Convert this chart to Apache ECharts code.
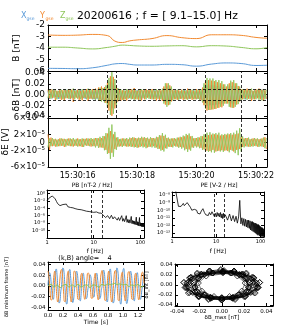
<!DOCTYPE html>
<html><head><meta charset="utf-8">
<script src="https://cdn.jsdelivr.net/npm/echarts@6/dist/echarts.min.js"></script>
<style>html,body{margin:0;padding:0;background:#fff}#c{width:293px;height:327px}</style>
</head><body><div id="c"></div><script>
// ---------------- data ----------------
const tB = [15.0,15.5,16.0,16.5,17.0,17.25,17.5,17.75,18.0,18.5,19.0,19.5,20.0,20.5,21.0,21.5,22.0,22.37];
const bX = [-5.77,-5.78,-5.8,-5.72,-5.5,-5.38,-5.35,-5.42,-5.48,-5.48,-5.42,-5.45,-5.58,-5.4,-5.3,-5.35,-5.52,-5.5];
const bY = [-2.87,-2.9,-2.88,-2.82,-2.92,-3.4,-3.52,-3.38,-3.3,-3.18,-2.92,-3.1,-3.18,-2.85,-2.85,-2.9,-3.08,-3.15];
const bZ = [-3.93,-3.93,-4.0,-4.08,-3.95,-3.85,-3.75,-3.78,-3.82,-3.85,-3.82,-3.8,-3.9,-3.8,-3.83,-3.95,-4.07,-3.97];

const WAVE_T0 = 15.0, WAVE_DT = 0.05;
const dBx = [
.006,-.008,.005,-.007,.009,-.005,.006,-.008,.007,-.006,
.005,-.008,.009,-.006,.007,-.009,.006,-.007,.008,-.005,
.007,-.006,.009,-.007,.005,-.008,.007,-.006,.008,-.007,
.006,-.009,.007,-.008,.010,-.009,.011,-.010,.012,-.011,
.015,-.020,.024,-.026,.022,-.018,.012,-.009,.008,-.007,
.006,-.008,.007,-.006,.009,-.007,.005,-.008,.007,-.006,
.008,-.006,.007,-.009,.006,-.007,.008,-.005,.007,-.008,
.006,-.007,.008,-.006,.007,-.009,.006,-.008,.011,-.014,
.015,-.014,.012,-.010,.007,-.006,.008,-.007,.006,-.008,
.007,-.006,.009,-.007,.006,-.008,.007,-.006,.008,-.007,
.006,-.008,.007,-.009,.010,-.014,.018,-.021,.019,-.020,
.018,-.020,.017,-.019,.016,-.018,.015,-.017,.014,-.012,
.011,-.012,.015,-.017,.016,-.018,.015,-.013,.011,-.009,
.007,-.008,.006,-.009,.007,-.006,.008,-.007,.006,-.008,
.007,-.006,.008,-.007,.009,-.006,.007,-.008];
const dBy = [
.009,-.007,.010,-.006,.008,-.011,.007,-.005,.009,-.010,
.008,-.012,.008,-.007,.010,-.008,.009,-.014,.007,-.006,
.009,-.010,.007,-.011,.008,-.006,.010,-.012,.009,-.008,
.010,-.008,.011,-.007,.013,-.012,.015,-.010,.014,-.016,
.022,-.030,.034,-.040,.033,-.026,.017,-.013,.010,-.012,
.008,-.010,.007,-.011,.009,-.006,.010,-.008,.012,-.009,
.007,-.010,.009,-.011,.008,-.009,.010,-.006,.009,-.008,
.010,-.009,.007,-.011,.008,-.010,.008,-.012,.015,-.019,
.021,-.020,.017,-.013,.009,-.009,.008,-.010,.008,-.008,
.009,-.010,.007,-.009,.011,-.008,.009,-.010,.007,-.009,
.010,-.008,.009,-.011,.013,-.020,.025,-.030,.027,-.029,
.026,-.028,.025,-.027,.023,-.025,.021,-.024,.019,-.017,
.015,-.017,.021,-.024,.023,-.025,.021,-.019,.016,-.013,
.010,-.009,.010,-.007,.011,-.008,.010,-.012,.007,-.009,
.010,-.007,.011,-.009,.009,-.012,.008,-.008];
const dBz = [
-.007,.009,-.008,.009,-.006,.010,-.009,.007,-.008,.009,
-.009,.010,-.007,.009,-.008,.010,-.007,.011,-.009,.008,
-.008,.009,-.009,.010,-.007,.008,-.009,.011,-.008,.009,
-.009,.010,-.010,.009,-.012,.013,-.013,.012,-.015,.017,
-.024,.031,-.038,.042,-.036,.029,-.020,.012,-.011,.010,
-.010,.009,-.009,.010,-.008,.008,-.009,.009,-.010,.008,
-.009,.009,-.010,.010,-.007,.009,-.009,.008,-.008,.009,
-.009,.010,-.009,.010,-.008,.009,-.009,.011,-.017,.021,
-.023,.021,-.019,.015,-.011,.008,-.009,.009,-.010,.007,
-.008,.009,-.009,.008,-.010,.009,-.008,.009,-.009,.008,
-.009,.009,-.010,.010,-.015,.021,-.027,.031,-.029,.030,
-.028,.030,-.027,.027,-.025,.027,-.023,.025,-.021,.019,
-.017,.019,-.023,.026,-.025,.027,-.023,.021,-.018,.015,
-.011,.010,-.009,.009,-.010,.010,-.009,.011,-.009,.008,
-.009,.009,-.010,.010,-.011,.010,-.009,.009];
// delta E in units of 1e-5 V
const dEy = [
2.0,-1.8,1.2,-0.9,0.8,-1.0,0.7,-0.9,1.0,-0.8,
0.9,-1.1,0.8,-0.7,1.0,-0.9,0.8,-1.0,0.7,-0.8,
1.0,-0.9,0.8,-1.1,0.9,-0.7,1.0,-0.8,0.9,-1.0,
0.8,-0.9,1.1,-0.8,1.0,-1.2,1.1,-1.3,1.5,-1.8,
2.2,-2.6,2.8,-2.5,2.0,-1.6,1.2,-1.0,0.8,-0.9,
1.0,-0.8,0.9,-1.0,0.8,-0.9,1.1,-1.0,1.2,-1.1,
1.0,-1.2,1.1,-0.9,1.2,-1.0,1.1,-1.2,0.9,-1.0,
1.1,-0.9,1.0,-1.2,1.3,-1.5,1.7,-1.8,1.6,-1.4,
1.1,-1.0,0.9,-1.1,1.0,-0.8,0.9,-1.0,1.2,-1.1,
1.3,-1.2,1.5,-1.6,1.8,-1.7,1.5,-1.2,1.0,-0.9,
1.1,-1.0,1.2,-1.3,1.5,-1.7,1.9,-2.0,1.8,-2.1,
1.9,-1.8,2.0,-2.2,1.9,-2.0,1.7,-1.9,1.8,-2.0,
1.9,-2.1,2.0,-1.8,1.9,-2.2,2.0,-1.8,2.2,-1.6,
1.3,-1.1,1.0,-0.9,1.1,-1.0,0.8,-0.9,1.0,-0.8,
0.9,-1.0,0.8,-0.9,1.0,-1.1,1.3,-1.6];
const dEz = [
-1.2,1.0,-0.9,1.1,-0.8,0.9,-1.0,0.8,-0.9,1.0,
-0.8,0.9,-1.0,0.9,-0.8,1.0,-0.9,1.1,-0.8,0.9,
-1.0,0.8,-0.9,1.0,-1.1,0.9,-0.8,1.0,-0.9,1.1,
-0.9,1.0,-1.2,1.1,-1.3,1.4,-1.2,1.6,-1.9,2.3,
-2.8,3.6,-4.0,4.4,-3.5,2.6,-1.8,1.3,-1.0,0.9,
-1.1,1.0,-0.9,1.1,-1.0,1.2,-1.1,1.3,-1.2,1.1,
-1.3,1.2,-1.1,1.4,-1.2,1.3,-1.4,1.2,-1.1,1.3,
-1.2,1.1,-1.3,1.4,-1.6,1.8,-2.0,2.3,-2.2,1.9,
-1.5,1.2,-1.1,1.0,-1.2,1.1,-1.0,1.2,-1.3,1.4,
-1.5,1.7,-1.9,2.1,-2.3,2.2,-2.0,1.6,-1.3,1.1,
-1.2,1.3,-1.4,1.6,-1.8,2.0,-2.2,2.4,-2.3,2.5,
-2.4,2.2,-2.5,2.3,-2.1,2.4,-2.2,2.0,-2.3,2.1,
-1.9,2.2,-2.4,2.3,-2.0,2.4,-2.6,2.9,-3.1,3.5,
-2.2,1.5,-1.2,1.1,-1.0,1.2,-1.1,0.9,-1.0,1.1,
-0.9,1.0,-1.1,0.9,-1.0,1.2,-1.4,1.1];

const dBMarks = [17.01, 17.31, 20.29, 21.5];
const dEMarks = [20.29, 21.5];
const dBLevel = 0.01;
const fBand = [9.1, 15.0];

const freq = [1.0,1.1,1.2,1.3,1.4,1.5,1.6,1.7,1.8,1.9,2.0,2.2,2.4,2.6,2.8,3.0,3.2,3.4,3.6,3.8,4.0,4.3,4.6,5.0,5.4,5.8,6.2,6.6,7.0,7.5,8.0,8.5,9.0,9.5,10,10.5,11,11.5,12,12.5,13,13.5,14,14.5,15,
16,18,20,22,24,26,28,30,32,34,36,38,40,42,44,46,48,50,52,54,56,58,60,62,64,66,68,70,72,74,76,78,80,82,84,86,88,90,92,94,96,98,100,102,104,106,108,110,112,114,116,118,120];
const pb = [1e-2,5e-2,1.3e-1,2e-1,1e-1,3.2e-2,6.3e-3,1.6e-3,7.9e-4,5e-4,3.2e-4,1e-3,4e-4,1.3e-3,2.5e-4,5e-4,1.6e-4,4e-4,1.3e-4,2.5e-4,7.9e-5,1.3e-4,5e-5,1e-4,4e-5,6.3e-5,2.5e-5,4e-5,1.6e-5,2.5e-5,1.3e-5,2e-5,1e-5,1.6e-5,7.9e-6,1.3e-5,6.3e-6,1e-5,5e-6,7.9e-6,5e-6,6.3e-6,4e-6,5e-6,2.5e-6,
1.6e-6,3.2e-7,1e-6,1.6e-7,1.3e-6,1.3e-7,5e-7,1.6e-6,6.3e-8,3.2e-7,5e-8,2.5e-7,1e-6,3.2e-8,1.6e-7,2.5e-8,1.3e-7,1e-6,1.6e-8,1e-7,1.3e-8,7.9e-8,1e-8,6.3e-8,6.3e-7,7.9e-9,5e-8,6.3e-9,4e-8,5e-9,3.2e-8,4e-9,3.2e-8,4e-7,3.2e-9,2.5e-8,2.5e-9,2e-8,2e-9,1.6e-8,3.2e-7,1.6e-9,1.3e-8,1.6e-9,1e-8,1.3e-9,1e-8,1e-9,7.9e-9,1.3e-9,6.3e-9,1e-9,5e-9];
const pe = [5e-8,5e-8,5e-8,4e-8,3.2e-10,2e-10,3.2e-10,5e-10,7.9e-10,4e-10,3.2e-10,1e-9,1.3e-9,2.5e-10,1e-10,6.3e-11,1.3e-10,7.9e-11,1e-10,4e-11,5e-11,3.2e-11,7.9e-11,1.6e-10,5e-11,2.5e-11,4e-11,2e-11,5e-11,2.5e-11,6.3e-11,3.2e-11,1.6e-11,4e-11,1.3e-11,5e-11,1.6e-11,4e-11,1.3e-11,5e-11,1e-11,3.2e-11,7.9e-12,4e-11,1e-11,
2.5e-11,5e-12,3.2e-11,4e-12,2e-11,3.2e-12,1.6e-11,2e-12,1.3e-11,2e-9,1.6e-12,1e-11,1e-12,7.9e-12,7.9e-13,6.3e-12,6.3e-13,5e-12,5e-13,5e-12,4e-13,4e-12,2.5e-13,3.2e-12,2e-13,3.2e-12,1.6e-13,2.5e-12,1.3e-13,2e-12,1e-13,2e-12,7.9e-14,1.6e-12,6.3e-14,1.3e-12,5e-14,1.3e-12,6.3e-14,1e-12,4e-14,7.9e-13,5e-14,6.3e-13,4e-14,5e-13,3.2e-14,5e-13,4e-14,4e-13,3.2e-14,3.2e-13,4e-14];
const PB_YMIN = 1e-12, PB_YMAX = 8;
const PE_YMIN = 3e-14, PE_YMAX = 2.5e-8;

const MV_DT = 0.01, MVMIN_DT = 0.04;
const mvMax = [
.001,.016,.025,.022,.009,-.009,-.022,-.025,-.016,
.011,.028,.032,.021,.000,-.021,-.032,-.028,-.011,
-.001,.022,.034,.030,.012,-.012,-.030,-.034,-.022,
.011,.027,.031,.020,.000,-.020,-.031,-.027,-.011,
.002,.018,.028,.024,.010,-.010,-.024,-.028,-.018,
.008,.021,.024,.015,.000,-.015,-.024,-.021,-.008,
.001,.014,.021,.018,.007,-.007,-.018,-.021,-.014,
.008,.021,.024,.015,.000,-.015,-.024,-.021,-.008,
-.001,.019,.030,.026,.010,-.010,-.026,-.030,-.019,
.011,.028,.032,.021,.000,-.021,-.032,-.028,-.011,
.002,.022,.034,.029,.012,-.012,-.029,-.034,-.022,
.011,.029,.033,.021,.000,-.021,-.033,-.029,-.011,
.001,.018,.028,.024,.010,-.010,-.024,-.028,-.018,
.009,.022,.025,.016,.000,-.016,-.025,-.022,-.009,
.001,.016,.025];
const mvInt = [
.028,.021,.005,-.014,-.026,-.026,-.014,.005,.021,
.028,.015,-.005,-.023,-.030,-.023,-.005,.015,.028,
.031,.024,.005,-.016,-.029,-.029,-.016,.005,.024,
.028,.015,-.005,-.023,-.030,-.023,-.005,.015,.028,
.027,.021,.005,-.014,-.025,-.025,-.014,.005,.021,
.024,.013,-.004,-.019,-.025,-.019,-.004,.013,.024,
.024,.018,.004,-.012,-.023,-.023,-.012,.004,.018,
.024,.013,-.005,-.020,-.026,-.020,-.005,.013,.024,
.029,.022,.005,-.015,-.027,-.027,-.015,.005,.022,
.028,.015,-.005,-.023,-.030,-.023,-.005,.015,.028,
.029,.022,.005,-.015,-.027,-.027,-.015,.005,.022,
.026,.014,-.005,-.021,-.028,-.021,-.005,.014,.026,
.027,.021,.005,-.014,-.025,-.025,-.014,.005,.021,
.024,.013,-.005,-.020,-.026,-.020,-.005,.013,.024,
.026,.020,.005];
const mvMin = [0.000,0.003,-0.002,0.002,-0.003,0.001,0.003,-0.002,0.002,-0.001,0.003,-0.002,0.001,0.002,-0.003,0.002,0.001,-0.002,0.003,0.001,0.004,0.002,0.005,0.003,0.004,0.002,0.003,-0.001,0.002,0.000,0.003,-0.002,0.001];

// ---------------- build ----------------
const FONT = 'DejaVu Sans';
const C_BLUE = '#5a9ad8', C_ORANGE = '#f28a30', C_GREEN = '#8ec65a';
const SUP = {'0':'⁰','1':'¹','2':'²','3':'³','4':'⁴','5':'⁵','6':'⁶','7':'⁷','8':'⁸','9':'⁹','-':'⁻'};
const sup = n => String(n).split('').map(c => SUP[c]).join('');
const near = (a, b) => Math.abs(a - b) < 1e-7;

const grids = [], xAxes = [], yAxes = [], series = [];
function baseAxis(o) {
  return Object.assign({
    axisLine: {show: true, onZero: false, lineStyle: {color: '#000', width: 1}},
    axisTick: {show: true, inside: true, length: 3, lineStyle: {color: '#000', width: 1}},
    axisLabel: {show: false},
    splitLine: {show: false},
    splitArea: {show: false}
  }, o);
}
function lab(size, margin, formatter) {
  return {show: true, fontSize: size, fontFamily: FONT, color: '#000', margin: margin,
    formatter: formatter, hideOverlap: false, showMinLabel: true, showMaxLabel: true};
}
function addPanel(rect, xo, yo, xl, yl) {
  const gi = grids.length;
  grids.push(Object.assign({outerBoundsMode: 'none'}, rect));
  const xi = xAxes.length, yi = yAxes.length;
  xAxes.push(baseAxis(Object.assign({gridIndex: gi, position: 'bottom'}, xo, xl ? {axisLabel: xl} : {})));
  xAxes.push(baseAxis(Object.assign({gridIndex: gi, position: 'top'}, xo)));
  yAxes.push(baseAxis(Object.assign({gridIndex: gi, position: 'left'}, yo, yl ? {axisLabel: yl} : {})));
  yAxes.push(baseAxis(Object.assign({gridIndex: gi, position: 'right'}, yo)));
  return {gi, xi, yi};
}
function line(ax, data, color, width, extra) {
  series.push(Object.assign({type: 'line', xAxisIndex: ax.xi, yAxisIndex: ax.yi, data: data,
    showSymbol: false, silent: true, lineStyle: {color: color, width: width}, itemStyle: {color: color}}, extra || {}));
}
function dashed(data) {
  return {silent: true, symbol: ['none', 'none'], label: {show: false}, animation: false,
    lineStyle: {color: '#000', type: [3, 2], width: 0.8}, emphasis: {disabled: true}, data: data};
}

const timeX = {type: 'value', min: 15.0, max: 22.37, splitNumber: 4};
const timeFmt = v => (near(v, Math.round(v)) && Math.round(v) % 2 === 0) ? '15:30:' + String(Math.round(v)).padStart(2, '0') : '';

// panel 1: B
const p1 = addPanel({left: 48, top: 25, width: 219, height: 46}, timeX,
  {type: 'value', min: -6, max: -2, interval: 1}, null, lab(9, 3, v => String(v)));
line(p1, tB.map((t, i) => [t, bX[i]]), C_BLUE, 1, {smooth: true});
line(p1, tB.map((t, i) => [t, bY[i]]), C_ORANGE, 1, {smooth: true});
line(p1, tB.map((t, i) => [t, bZ[i]]), C_GREEN, 1, {smooth: true});

// panel 2: dB
const tWave = dBy.map((_, i) => +(WAVE_T0 + i * WAVE_DT).toFixed(2));
const p2 = addPanel({left: 48, top: 71, width: 219, height: 47}, timeX,
  {type: 'value', min: -0.044, max: 0.044, splitNumber: 4}, null,
  lab(9, 3, v => near(v * 50, Math.round(v * 50)) ? v.toFixed(2) : ''));
line(p2, tWave.map((t, i) => [t, dBx[i]]), C_BLUE, 0.9);
line(p2, tWave.map((t, i) => [t, dBy[i]]), C_ORANGE, 0.9);
line(p2, tWave.map((t, i) => [t, dBz[i]]), C_GREEN, 0.9, {
  markLine: dashed(dBMarks.map(v => ({xAxis: v})).concat([{yAxis: dBLevel}, {yAxis: -dBLevel}]))});

// panel 3: dE
const p3 = addPanel({left: 48, top: 118, width: 219, height: 49}, timeX,
  {type: 'value', min: -6, max: 6, interval: 2}, lab(8, 5, timeFmt),
  lab(8.5, 3, v => v === 0 ? '0' : v + '×10⁻⁵'));
line(p3, tWave.map((t, i) => [t, dEy[i]]), C_ORANGE, 0.9);
line(p3, tWave.map((t, i) => [t, dEz[i]]), C_GREEN, 0.9, {
  markLine: dashed(dEMarks.map(v => ({xAxis: v})))});

// PB spectrum
const logX = {type: 'log', min: 1, max: 120, splitNumber: 5};
const logXFmt = v => { const e = Math.log10(v); return near(e, Math.round(e)) ? String(Math.round(v)) : ''; };
const pbExpMax = Math.log10(PB_YMAX), pbExpMin = Math.log10(PB_YMIN);
const pbp = addPanel({left: 47, top: 190, width: 97, height: 48}, logX,
  {type: 'value', min: pbExpMin, max: pbExpMax, interval: 2}, lab(5, 2, logXFmt),
  lab(5, 2, v => (near(v, Math.round(v)) && Math.round(v) % 2 === 0 && v > -11) ? '10' + sup(Math.round(v)) : ''));
const pbDataY = yAxes.length;
yAxes.push({type: 'log', gridIndex: pbp.gi, position: 'left', min: PB_YMIN, max: PB_YMAX, show: false});
line({xi: pbp.xi, yi: pbDataY}, freq.map((f, i) => [f, pb[i]]), '#000', 0.8, {
  markLine: dashed(fBand.map(v => ({xAxis: v})))});

// PE spectrum
const pep = addPanel({left: 172, top: 192, width: 92, height: 45}, logX,
  {type: 'log', min: PE_YMIN, max: PE_YMAX, splitNumber: 6}, lab(5, 2, logXFmt),
  lab(5, 2, v => { const e = Math.log10(v); const r = Math.round(e); return near(e, r) ? '10' + sup(r) : ''; }));
line(pep, freq.map((f, i) => [f, pe[i]]), '#000', 0.8, {
  markLine: dashed(fBand.map(v => ({xAxis: v})))});

// min variance frame time series
const tMv = mvMax.map((_, i) => +(i * MV_DT).toFixed(2));
const tMvMin = mvMin.map((_, i) => +(i * MVMIN_DT).toFixed(2));
const mvp = addPanel({left: 48, top: 262, width: 96, height: 48},
  {type: 'value', min: 0, max: 1.28, interval: 0.2},
  {type: 'value', min: -0.045, max: 0.045, splitNumber: 4},
  lab(5.5, 2.5, v => near(v * 5, Math.round(v * 5)) ? v.toFixed(1) : ''),
  lab(5.5, 2.5, v => near(v * 50, Math.round(v * 50)) ? v.toFixed(2) : ''));
line(mvp, tMv.map((t, i) => [t, mvMax[i]]), C_BLUE, 1, {smooth: true});
line(mvp, tMv.map((t, i) => [t, mvInt[i]]), C_ORANGE, 1, {smooth: true});
line(mvp, tMvMin.map((t, i) => [t, mvMin[i]]), C_GREEN, 1, {smooth: true});

// hodogram
const hop = addPanel({left: 175, top: 264, width: 98, height: 42},
  {type: 'value', min: -0.042, max: 0.046, splitNumber: 4},
  {type: 'value', min: -0.042, max: 0.042, splitNumber: 4},
  lab(5.5, 2.5, v => near(v * 50, Math.round(v * 50)) ? v.toFixed(2) : ''),
  lab(5.5, 2.5, v => near(v * 50, Math.round(v * 50)) ? v.toFixed(2) : ''));
line(hop, mvMax.map((x, i) => [x, mvInt[i]]), '#000', 0.5, {
  showSymbol: true, symbol: 'diamond', symbolSize: 6,
  itemStyle: {color: 'rgba(0,0,0,0)', borderColor: '#000', borderWidth: 0.7}});

// ---------------- texts ----------------
function txt(t, x, y, size, color, align, rot) {
  return {type: 'text', x: x, y: y, rotation: rot ? Math.PI / 2 : 0, silent: true, z: 100,
    style: {text: t, fill: color || '#000', fontSize: size, fontFamily: FONT,
      align: align || 'left', verticalAlign: 'middle'}};
}
const graphics = [
  txt('X', 21, 16, 8, C_BLUE), txt('gse', 26.5, 18.5, 4.5, C_BLUE),
  txt('Y', 40, 16, 8, C_ORANGE), txt('gse', 45.5, 18.5, 4.5, C_ORANGE),
  txt('Z', 60, 16, 8, C_GREEN), txt('gse', 65.5, 18.5, 4.5, C_GREEN),
  txt('20200616 ; f = [ 9.1–15.0] Hz', 77, 16, 10.8),
  txt('B [nT]', 17, 48, 9, '#000', 'center', true),
  txt('δB [nT]', 17, 95, 9, '#000', 'center', true),
  txt('δE [V]', 6, 142, 9, '#000', 'center', true),
  txt('PB [nT-2 / Hz]', 92, 185.5, 6, '#000', 'center'),
  txt('PE [V-2 / Hz]', 219, 185.5, 6, '#000', 'center'),
  txt('f [Hz]', 95, 251, 6, '#000', 'center'),
  txt('f [Hz]', 218, 251, 6, '#000', 'center'),
  txt('(k,B) angle=    4', 85, 258, 6.5, '#000', 'center'),
  txt('δB minimum frame [nT]', 7, 287, 5, '#000', 'center', true),
  txt('δB_int [nT]', 147, 285, 5, '#000', 'center', true),
  txt('Time [s]', 96, 322, 6, '#000', 'center'),
  txt('δB_max [nT]', 222, 317.5, 5.5, '#000', 'center')
];

const chart = echarts.init(document.getElementById('c'), null, {renderer: 'canvas'});
chart.setOption({
  animation: false,
  backgroundColor: '#fff',
  grid: grids, xAxis: xAxes, yAxis: yAxes, series: series,
  graphic: graphics
});
</script></body></html>
